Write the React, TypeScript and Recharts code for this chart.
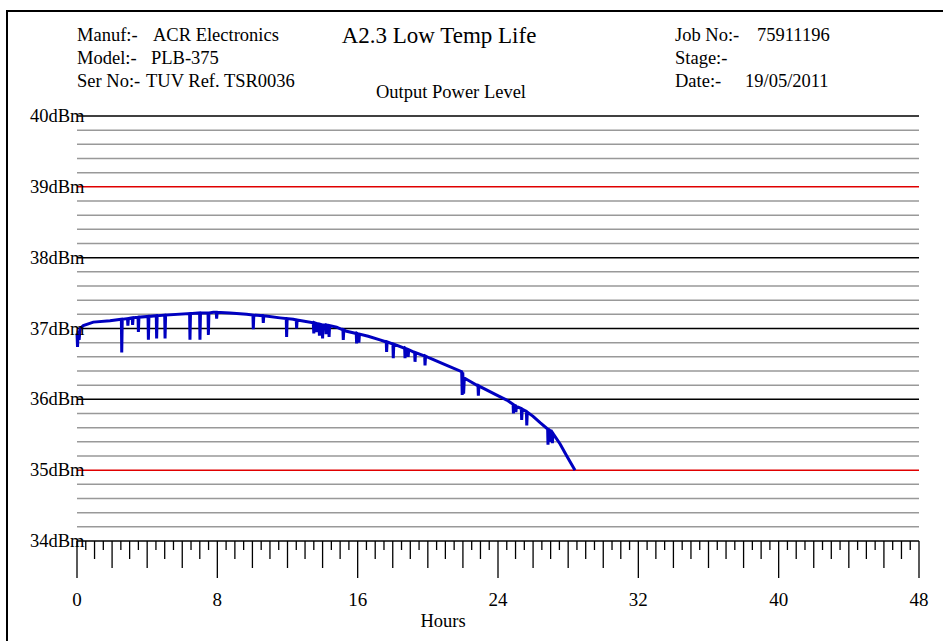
import React from 'react';
import { LineChart, Line, XAxis, YAxis, ReferenceLine, Customized } from 'recharts';

// Output power trace, [hours, dBm], split by phase of the run
const earlyRun: [number, number][] = [
  [0.0, 36.93], [0.03, 36.74], [0.07, 36.97], [0.12, 36.84], [0.18, 37.0], [0.36, 37.04], [0.93, 37.09], [1.88, 37.11],
  [2.53, 37.13], [2.55, 36.66], [2.58, 37.13],
  [2.88, 37.14], [2.9, 37.04], [2.93, 37.14],
  [3.15, 37.15], [3.17, 37.05], [3.2, 37.15],
  [3.48, 37.16], [3.5, 36.95], [3.53, 37.16],
  [4.05, 37.17], [4.07, 36.84], [4.1, 37.17],
  [4.52, 37.18], [4.54, 36.86], [4.57, 37.18],
  [5.0, 37.19], [5.02, 36.86], [5.05, 37.19],
  [6.42, 37.21], [6.44, 36.84], [6.47, 37.21],
  [6.99, 37.22], [7.01, 36.84], [7.04, 37.22],
  [7.47, 37.22], [7.49, 36.91], [7.52, 37.22],
  [7.77, 37.23], [7.94, 37.23], [7.96, 37.14], [7.99, 37.23],
];

const plateau: [number, number][] = [
  [8.72, 37.22], [9.67, 37.2],
  [10.03, 37.19], [10.05, 36.99], [10.08, 37.19],
  [10.6, 37.18], [10.62, 37.08], [10.65, 37.18],
  [11.57, 37.15],
  [11.93, 37.14], [11.95, 36.88], [11.98, 37.14],
  [12.33, 37.13], [12.5, 37.12], [12.52, 37.0], [12.55, 37.12],
  [13.47, 37.08], [13.5, 36.93], [13.53, 37.08], [13.62, 37.07], [13.64, 36.95], [13.67, 37.07],
  [13.8, 37.06], [13.82, 36.9], [13.85, 37.06], [13.98, 37.05], [14.0, 36.86], [14.03, 37.05],
  [14.18, 37.05], [14.2, 36.92], [14.23, 37.05], [14.35, 37.04], [14.37, 36.88], [14.4, 37.04],
  [14.8, 37.02], [15.16, 36.98], [15.18, 36.84], [15.21, 36.98], [15.37, 36.96],
  [15.92, 36.93], [15.94, 36.79], [15.97, 36.93], [16.05, 36.92], [16.07, 36.8], [16.1, 36.92],
];

const decline: [number, number][] = [
  [16.6, 36.89], [17.27, 36.84],
  [17.63, 36.81], [17.65, 36.67], [17.68, 36.81],
  [18.01, 36.78], [18.03, 36.58], [18.06, 36.78],
  [18.68, 36.72], [18.7, 36.58], [18.73, 36.72], [18.86, 36.7], [18.88, 36.6], [18.91, 36.7],
  [19.17, 36.67], [19.25, 36.66], [19.27, 36.53], [19.3, 36.66],
  [19.82, 36.61], [19.84, 36.48], [19.87, 36.61],
  [20.12, 36.58], [21.08, 36.48], [21.93, 36.39], [21.96, 36.06], [21.99, 36.38], [22.04, 36.08],
  [22.08, 36.3], [22.3, 36.27],
];

const endOfLife: [number, number][] = [
  [22.86, 36.19], [22.88, 36.05], [22.91, 36.19], [22.98, 36.18], [23.93, 36.06],
  [24.5, 35.99], [24.86, 35.93], [24.88, 35.8], [24.91, 35.92], [25.0, 35.91], [25.02, 35.82], [25.05, 35.9],
  [25.33, 35.87], [25.35, 35.71], [25.38, 35.86],
  [25.62, 35.83], [25.64, 35.63], [25.67, 35.82],
  [26.0, 35.76], [26.4, 35.67],
  [26.83, 35.58], [26.85, 35.36], [26.88, 35.57], [26.95, 35.56], [26.97, 35.4], [27.0, 35.55],
  [27.08, 35.53], [27.1, 35.38], [27.13, 35.52],
  [27.54, 35.37], [27.92, 35.2], [28.39, 35.0],
];

const powerTicks = [34, 35, 36, 37, 38, 39, 40];
const limitLevels = [35, 39];
const hourLabels = [0, 8, 16, 24, 32, 40, 48];

const headerLeft = [
  { label: 'Manuf:-', value: 'ACR Electronics', valueX: 153 },
  { label: 'Model:-', value: 'PLB-375', valueX: 151 },
  { label: 'Ser No:-', value: 'TUV Ref. TSR0036', valueX: 146 },
];
const headerRight = [
  { label: 'Job No:-', value: '75911196', valueX: 757 },
  { label: 'Stage:-', value: '', valueX: 757 },
  { label: 'Date:-', value: '19/05/2011', valueX: 745 },
];
const chartTitle = 'A2.3 Low Temp Life';
const chartSubtitle = 'Output Power Level';
const xTitle = 'Hours';

const data = [...earlyRun, ...plateau, ...decline, ...endOfLife].map(([h, p]) => ({ h, p }));

const FONT = '"Liberation Serif", "Times New Roman", serif';

// horizontal rules every 0.2 dBm; integers are the heavy ones
const gridSteps = Array.from({ length: 31 }, (_, i) => i);
const hourTicks = Array.from({ length: 97 }, (_, i) => i / 2);

const YTick = (props: any) => {
  const { y, payload } = props;
  return (
    <text x={30} y={y + 6} fontFamily={FONT} fontSize={18.5} fill="#000" textAnchor="start">
      {`${payload.value}dBm`}
    </text>
  );
};

const XTick = (props: any) => {
  const { x, y, payload } = props;
  const v = payload.value as number;
  let len = 9;
  if (v % 8 === 0) len = 37;
  else if (v % 2 === 0) len = 27;
  else if (v % 1 === 0) len = 18;
  return (
    <g>
      <line x1={x} x2={x} y1={y} y2={y + len} stroke="#000" strokeWidth={1.3} />
      {hourLabels.includes(v) && (
        <text x={x} y={y + 65} fontFamily={FONT} fontSize={19} fill="#000" textAnchor="middle">
          {v}
        </text>
      )}
    </g>
  );
};

const Header = () => (
  <g fontFamily={FONT} fill="#000">
    <rect x={7} y={11} width={1000} height={700} fill="none" stroke="#000" strokeWidth={2} />
    {headerLeft.map((r, i) => (
      <g key={r.label}>
        <text x={77} y={41 + i * 23} fontSize={18.5}>{r.label}</text>
        <text x={r.valueX} y={41 + i * 23} fontSize={18.5}>{r.value}</text>
      </g>
    ))}
    {headerRight.map((r, i) => (
      <g key={r.label}>
        <text x={675} y={41 + i * 23} fontSize={18.5}>{r.label}</text>
        <text x={r.valueX} y={41 + i * 23} fontSize={18.5}>{r.value}</text>
      </g>
    ))}
    <text x={439} y={43} fontSize={23} textAnchor="middle">{chartTitle}</text>
    <text x={451} y={98} fontSize={18.5} textAnchor="middle">{chartSubtitle}</text>
    <text x={443} y={627} fontSize={18.5} textAnchor="middle">{xTitle}</text>
  </g>
);

export default function App() {
  return (
    <div style={{ position: 'absolute', left: 0, top: 0, background: '#fff' }}>
      <LineChart width={943} height={641} data={data} margin={{ top: 116, right: 24, bottom: 0, left: 30 }}>
        <Customized component={Header} />
        <XAxis
          dataKey="h"
          type="number"
          domain={[0, 48]}
          ticks={hourTicks}
          interval={0}
          height={100}
          axisLine={false}
          tickLine={false}
          tickSize={0}
          tickMargin={0}
          tick={<XTick />}
        />
        <YAxis
          type="number"
          domain={[34, 40]}
          ticks={powerTicks}
          width={47}
          axisLine={false}
          tickLine={false}
          tick={<YTick />}
        />
        {gridSteps
          .filter((i) => i % 5 !== 0)
          .map((i) => (
            <ReferenceLine key={`m${i}`} y={34 + i / 5} stroke="#999" strokeWidth={1.5} />
          ))}
        {gridSteps
          .filter((i) => i % 5 === 0)
          .map((i) => {
            const level = 34 + i / 5;
            return (
              <ReferenceLine
                key={`M${i}`}
                y={level}
                stroke={limitLevels.includes(level) ? '#e00000' : '#000'}
                strokeWidth={1.5}
              />
            );
          })}
        <Line
          type="linear"
          dataKey="p"
          stroke="#0000c0"
          strokeWidth={3}
          dot={false}
          isAnimationActive={false}
        />
      </LineChart>
    </div>
  );
}
